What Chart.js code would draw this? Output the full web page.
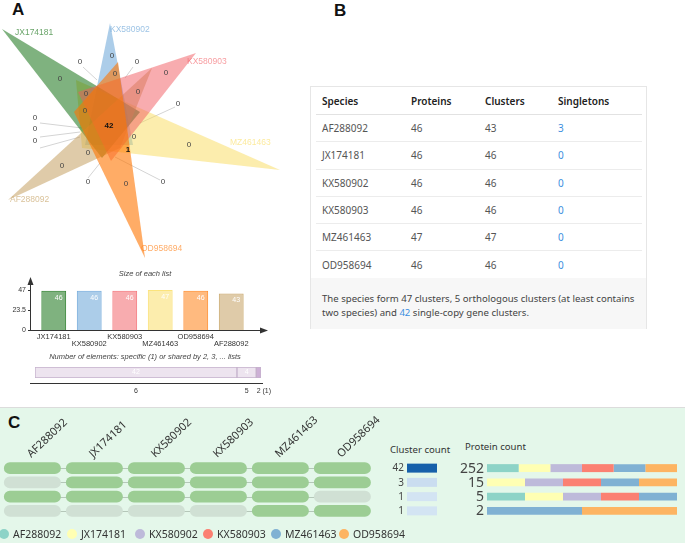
<!DOCTYPE html>
<html>
<head>
<meta charset="utf-8">
<script src="https://cdn.jsdelivr.net/npm/chart.js@4.4.0/dist/chart.umd.min.js"></script>
<style>
  body { margin: 0; width: 685px; height: 543px; overflow: hidden; background: #fff; position: relative; font-family: "Noto Sans", sans-serif; }
  canvas, .abs { position: absolute; }
  .panel-letter { position: absolute; font: bold 17px "Liberation Sans", Arial, sans-serif; color: #111; }
  #panelB { position: absolute; left: 310px; top: 86px; width: 337px; height: 243px; border: 1px solid #e6e6e6; box-sizing: border-box; }
  #tbl { position: absolute; left: 5px; top: 0; width: 326px; border-collapse: collapse; font-size: 10px; color: #555; }
  #tbl th { text-align: left; font-weight: 600; color: #222; height: 27px; padding: 0 0 0 6px; border-bottom: 1px solid #e2e2e2; }
  #tbl td { height: 26.3px; padding: 0 0 0 6px; border-bottom: 1px solid #ececec; }
  #tbl tr:last-child td { border-bottom: none; }
  .blue { color: #3d8fe0; }
  #foot { position: absolute; left: 0; top: 191px; width: 335px; height: 51px; background: #f7f7f7; box-sizing: border-box; padding: 14px 0 0 11px; font-size: 9.6px; line-height: 14px; color: #444; }
  #panelC { position: absolute; left: 0; top: 407px; width: 685px; height: 136px; background: #e4f7ea; border-top: 1px solid #dcdcdc; box-sizing: border-box; }
  .ctitle { position: absolute; font-size: 9.6px; color: #333; }
  .leg { position: absolute; top: 527px; font-size: 10.5px; color: #333; white-space: nowrap; }
  .leg i { display: inline-block; width: 10px; height: 10px; border-radius: 50%; vertical-align: -1px; margin-right: 4px; }
</style>
</head>
<body>
<div id="panelC"></div>
<div class="panel-letter" style="left:12px;top:0px;">A</div>
<div class="panel-letter" style="left:334px;top:1px;">B</div>
<div class="panel-letter" style="left:8px;top:413px;">C</div>

<canvas id="venn" width="290" height="265" style="left:0;top:0;width:290px;height:265px"></canvas>
<canvas id="sizes" width="290" height="90" style="left:0;top:265px;width:290px;height:90px"></canvas>
<canvas id="shared" width="290" height="50" style="left:0;top:350px;width:290px;height:50px"></canvas>

<div id="panelB"><table id="tbl"></table><div id="foot">The species form 47 clusters, 5 orthologous clusters (at least contains two species) and <span class="blue">42</span> single-copy gene clusters.</div></div>

<canvas id="grid" width="380" height="113" style="left:0;top:407px;width:380px;height:113px"></canvas>
<div class="ctitle" style="left:390px;top:443px;">Cluster count</div>
<div class="ctitle" style="left:465px;top:440px;">Protein count</div>
<canvas id="ccount" width="60" height="57" style="left:380px;top:461px;width:60px;height:57px"></canvas>
<canvas id="pcount" width="230" height="57" style="left:450px;top:461px;width:230px;height:57px"></canvas>
<div id="legend"></div>

<script>
// ---- table B / panel C species ----
const species = ['AF288092', 'JX174181', 'KX580902', 'KX580903', 'MZ461463', 'OD958694'];
const proteins = [46, 46, 46, 46, 47, 46];
const clusters = [43, 46, 46, 46, 47, 46];
const singletons = [3, 0, 0, 0, 0, 0];
const speciesColors = ['#8dd3c7', '#ffffb3', '#bebada', '#fb8072', '#80b1d3', '#fdb462'];

// ---- panel A: venn ----
const vennSets = ['JX174181', 'KX580902', 'KX580903', 'MZ461463', 'OD958694', 'AF288092'];
const vennColors = ['0,102,0', '90,155,212', '241,90,96', '250,220,91', '255,117,0', '192,152,83'];
const vennDrawOrder = [3, 5, 1, 4, 0, 2];  // lower = drawn on top
// triangle vertices of the 6-set venn shapes
const vennTriangles = [
    [[2, 29], [140, 112], [102, 158]],
    [[110, 23], [85, 145], [133, 145]],
    [[196, 53], [78, 92], [111, 161]],
    [[280, 170], [76, 80], [82, 148]],
    [[145, 258], [118, 62], [74, 112]],
    [[8, 200], [152, 68], [120, 148]]
];
const vennSetLabelPos = [[15, 33], [110, 30], [187, 62], [230, 143], [141, 249], [10, 200]];
// region counts: [text, x, y]
const vennRegions = [
    ['0', 60, 79], ['0', 112, 56], ['0', 80, 62], ['0', 137, 62], ['0', 115, 74], ['0', 166, 73],
    ['0', 86, 94], ['0', 138, 92], ['0', 85, 111], ['0', 178, 104], ['0', 35, 118], ['0', 35, 129],
    ['0', 35, 141], ['42', 109, 126], ['0', 134, 137], ['1', 128, 150], ['0', 189, 145], ['0', 88, 153],
    ['0', 62, 166], ['0', 88, 182], ['0', 163, 182], ['0', 126, 184]
];
const vennLeaders = [
    [83, 67, 97, 80], [133, 67, 125, 78], [175, 107, 140, 123], [40, 123, 82, 128],
    [40, 137, 80, 132], [40, 148, 80, 137], [88, 178, 100, 163], [160, 180, 115, 157]
];

// ---- size of each list ----
const listSizes = [46, 46, 46, 47, 46, 43];
const sizeTicks = [0, 23.5, 47];

// ---- shared elements ----
const sharedCounts = [42, 4, 1];
const sharedBy = ['6', '5', '2 (1)'];
const sharedFill = ['#ede4ef', '#ede4ef', '#cdb0d6'];

// ---- panel C ----
const clusterCounts = [42, 3, 1, 1];
const proteinTotals = [252, 15, 5, 2];
const presence = [
    [1, 1, 1, 1, 1, 1],
    [0, 1, 1, 1, 1, 1],
    [1, 1, 1, 1, 1, 0],
    [0, 0, 0, 0, 1, 1]
];
const proteinsPerRow = [
    [42, 42, 42, 42, 42, 42],
    [0, 3, 3, 3, 3, 3],
    [1, 1, 1, 1, 1, 0],
    [0, 0, 0, 0, 1, 1]
];

Chart.defaults.font.family = '"Liberation Sans", Arial, sans-serif';
const noLegend = { legend: { display: false }, tooltip: { enabled: false }, title: { display: false } };

// === table B ===
const tbl = document.getElementById('tbl');
let html = '<tr><th style="width:83px">Species</th><th style="width:68px">Proteins</th><th style="width:67px">Clusters</th><th>Singletons</th></tr>';
species.forEach((s, i) => {
    html += `<tr><td>${s}</td><td>${proteins[i]}</td><td>${clusters[i]}</td><td class="blue">${singletons[i]}</td></tr>`;
});
tbl.innerHTML = html;

// === 1. venn ===
const vennText = {
    id: 'vennText',
    beforeDraw(chart) {
        const { ctx, scales: { x, y } } = chart;
        ctx.save();
        ctx.strokeStyle = '#d4d4d4';
        ctx.lineWidth = 1;
        vennLeaders.forEach(l => {
            ctx.beginPath();
            ctx.moveTo(x.getPixelForValue(l[0]), y.getPixelForValue(l[1]));
            ctx.lineTo(x.getPixelForValue(l[2]), y.getPixelForValue(l[3]));
            ctx.stroke();
        });
        ctx.restore();
    },
    afterDatasetsDraw(chart) {
        const { ctx, scales: { x, y } } = chart;
        ctx.save();
        ctx.textBaseline = 'middle';
        ctx.textAlign = 'center';
        vennRegions.forEach(r => {
            ctx.font = (r[0] === '0' ? '' : 'bold ') + '8px "Liberation Sans", Arial';
            ctx.fillStyle = r[0] === '0' ? '#444' : '#111';
            ctx.fillText(r[0], x.getPixelForValue(r[1]), y.getPixelForValue(r[2]));
        });
        ctx.textAlign = 'left';
        ctx.font = '8.5px "Liberation Sans", Arial';
        vennSets.forEach((s, i) => {
            ctx.fillStyle = `rgba(${vennColors[i]},0.6)`;
            ctx.fillText(s, x.getPixelForValue(vennSetLabelPos[i][0]), y.getPixelForValue(vennSetLabelPos[i][1]));
        });
        ctx.restore();
    }
};
new Chart(document.getElementById('venn'), {
    type: 'scatter',
    data: {
        datasets: vennTriangles.map((tri, i) => ({
            label: vennSets[i],
            data: tri.concat([tri[0]]).map(p => ({ x: p[0], y: p[1] })),
            showLine: true,
            fill: 'shape',
            order: vennDrawOrder[i],
            backgroundColor: `rgba(${vennColors[i]},${i === 4 ? 0.6 : 0.5})`,
            borderWidth: 0,
            pointRadius: 0
        }))
    },
    options: {
        responsive: false,
        animation: false,
        layout: { padding: 0 },
        scales: {
            x: { type: 'linear', min: 0, max: 290, display: false },
            y: { type: 'linear', min: 0, max: 265, reverse: true, display: false }
        },
        plugins: noLegend
    },
    plugins: [vennText]
});

// === 2. size of each list ===
function arrowHead(ctx, x, y, dir) {
    ctx.beginPath();
    if (dir === 'up') { ctx.moveTo(x, y); ctx.lineTo(x - 3, y + 8); ctx.lineTo(x + 3, y + 8); }
    else { ctx.moveTo(x, y); ctx.lineTo(x - 8, y - 3); ctx.lineTo(x - 8, y + 3); }
    ctx.closePath();
    ctx.fill();
}
const sizeAxes = {
    id: 'sizeAxes',
    afterDraw(chart) {
        const { ctx, chartArea: a, scales: { x, y } } = chart;
        const ox = a.left - 6, oy = y.getPixelForValue(0);
        ctx.save();
        ctx.strokeStyle = '#333';
        ctx.fillStyle = '#333';
        ctx.lineWidth = 1;
        ctx.beginPath();
        ctx.moveTo(ox + 0.5, oy + 0.5); ctx.lineTo(ox + 0.5, a.top - 10);
        ctx.moveTo(ox, oy + 0.5); ctx.lineTo(a.right + 15, oy + 0.5);
        ctx.stroke();
        arrowHead(ctx, ox + 0.5, a.top - 13, 'up');
        arrowHead(ctx, a.right + 19, oy + 0.5, 'right');
        ctx.font = '7px "Liberation Sans", Arial';
        ctx.textAlign = 'right';
        ctx.textBaseline = 'middle';
        sizeTicks.forEach(t => {
            const py = y.getPixelForValue(t);
            ctx.fillText(String(t), ox - 4, py);
            ctx.beginPath(); ctx.moveTo(ox - 2, py + 0.5); ctx.lineTo(ox, py + 0.5); ctx.stroke();
        });
        ctx.textAlign = 'center';
        ctx.font = '7.5px "Liberation Sans", Arial';
        vennSets.forEach((s, i) => {
            const px = x.getPixelForValue(i);
            ctx.fillText(s, px, oy + (i % 2 ? 14 : 7));
        });
        // values
        ctx.fillStyle = '#fff';
        ctx.font = '7px "Liberation Sans", Arial';
        listSizes.forEach((v, i) => {
            ctx.fillText(String(v), x.getPixelForValue(i) + 5, y.getPixelForValue(v) + 7);
        });
        // title
        ctx.fillStyle = '#444';
        ctx.font = 'italic 7.5px "Liberation Sans", Arial';
        ctx.fillText('Size of each list', 145, 9);
        ctx.restore();
    }
};
new Chart(document.getElementById('sizes'), {
    type: 'bar',
    data: {
        labels: vennSets,
        datasets: [{
            data: listSizes,
            backgroundColor: vennColors.map(c => `rgba(${c},0.5)`),
            borderColor: vennColors.map(c => `rgba(${c},0.8)`),
            borderWidth: 1,
            borderSkipped: 'bottom',
            categoryPercentage: 1,
            barPercentage: 0.7
        }]
    },
    options: {
        responsive: false,
        animation: false,
        layout: { padding: { left: 36, right: 41, top: 25, bottom: 25 } },
        scales: {
            x: { display: false },
            y: { display: false, min: 0, max: 47 }
        },
        plugins: noLegend
    },
    plugins: [sizeAxes]
});

// === 3. shared by n lists ===
const sharedAxis = {
    id: 'sharedAxis',
    afterDraw(chart) {
        const { ctx, chartArea: a, scales: { x } } = chart;
        ctx.save();
        ctx.fillStyle = '#444';
        ctx.textAlign = 'center';
        ctx.textBaseline = 'middle';
        ctx.font = 'italic 7.5px "Liberation Sans", Arial';
        ctx.fillText('Number of elements: specific (1) or shared by 2, 3, ... lists', 145, 7);
        ctx.strokeStyle = '#333';
        ctx.beginPath();
        ctx.moveTo(30, a.bottom + 5.5); ctx.lineTo(263, a.bottom + 5.5);
        ctx.stroke();
        let cum = 0;
        sharedCounts.forEach((v, i) => {
            const cx = x.getPixelForValue(cum + v / 2);
            cum += v;
            ctx.font = '7px "Liberation Sans", Arial';
            ctx.fillStyle = '#333';
            ctx.textAlign = 'left';
            const lbl = sharedBy[i];
            ctx.fillText(lbl, cx - ctx.measureText(lbl[0]).width / 2, a.bottom + 13);
            if (v > 1) {
                ctx.fillStyle = '#fff';
                ctx.textAlign = 'center';
                ctx.fillText(String(v), cx, (a.top + a.bottom) / 2);
            }
        });
        ctx.restore();
    }
};
new Chart(document.getElementById('shared'), {
    type: 'bar',
    data: {
        labels: ['n'],
        datasets: sharedCounts.map((v, i) => ({
            data: [v],
            backgroundColor: sharedFill[i],
            borderColor: '#c5b2cc',
            borderWidth: 1,
            borderSkipped: false,
            categoryPercentage: 1,
            barPercentage: 1
        }))
    },
    options: {
        indexAxis: 'y',
        responsive: false,
        animation: false,
        layout: { padding: { left: 35, right: 29, top: 17, bottom: 22 } },
        scales: {
            x: { display: false, stacked: true, min: 0, max: 47 },
            y: { display: false, stacked: true }
        },
        plugins: noLegend
    },
    plugins: [sharedAxis]
});

// === 4. panel C presence grid ===
const gridDecor = {
    id: 'gridDecor',
    beforeDatasetsDraw(chart) {
        const { ctx, chartArea: a, scales: { x, y } } = chart;
        ctx.save();
        ctx.strokeStyle = '#b5c7b9';
        ctx.lineWidth = 1;
        presence.forEach((r, i) => {
            const py = Math.round(y.getPixelForValue(i)) + 0.5;
            ctx.beginPath(); ctx.moveTo(x.getPixelForValue(0.5), py); ctx.lineTo(x.getPixelForValue(5.5), py); ctx.stroke();
        });
        ctx.fillStyle = '#333';
        ctx.font = '11px "Noto Sans", sans-serif';
        ctx.textBaseline = 'alphabetic';
        species.forEach((s, j) => {
            ctx.save();
            ctx.translate(x.getPixelForValue(j + 0.47), a.top - 3);
            ctx.rotate(-0.76);
            ctx.fillText(s, 0, 0);
            ctx.restore();
        });
        ctx.restore();
    }
};
new Chart(document.getElementById('grid'), {
    type: 'bar',
    data: {
        labels: clusterCounts.map((c, i) => 'r' + i),
        datasets: species.map((s, j) => ({
            label: s,
            data: presence.map(() => [j + 0.03, j + 0.95]),
            backgroundColor: presence.map(r => r[j] ? '#9ccd94' : '#d0e0d4'),
            borderRadius: 6,
            borderSkipped: false,
            categoryPercentage: 1,
            barPercentage: 0.84,
            grouped: false
        }))
    },
    options: {
        indexAxis: 'y',
        responsive: false,
        animation: false,
        layout: { padding: { left: 2, right: 6, top: 54, bottom: 2 } },
        scales: {
            x: { type: 'linear', min: 0, max: 6, display: false },
            y: { display: false }
        },
        plugins: noLegend
    },
    plugins: [gridDecor]
});

// === 5. cluster count ===
function rowNumbers(values, size) {
    return {
        id: 'rowNumbers',
        afterDraw(chart) {
            const { ctx, chartArea: a, scales: { y } } = chart;
            ctx.save();
            ctx.fillStyle = '#444';
            ctx.font = size + 'px "Noto Sans", sans-serif';
            ctx.textAlign = 'right';
            ctx.textBaseline = 'middle';
            values.forEach((v, i) => ctx.fillText(String(v), a.left - 3, y.getPixelForValue(i) + 0.5));
            ctx.restore();
        }
    };
}
const maxCluster = Math.max(...clusterCounts);
function blueShade(v) {
    const t = v / maxCluster;
    const lo = [216, 231, 245], hi = [22, 96, 170];
    const c = lo.map((l, k) => Math.round(l + (hi[k] - l) * t));
    return `rgb(${c.join(',')})`;
}
new Chart(document.getElementById('ccount'), {
    type: 'bar',
    data: {
        labels: clusterCounts.map((c, i) => 'r' + i),
        datasets: [{
            data: clusterCounts.map(() => [0, 1]),
            backgroundColor: clusterCounts.map(blueShade),
            categoryPercentage: 1,
            barPercentage: 0.63
        }]
    },
    options: {
        indexAxis: 'y',
        responsive: false,
        animation: false,
        layout: { padding: { left: 27, right: 3, top: 0, bottom: 0 } },
        scales: {
            x: { type: 'linear', min: 0, max: 1, display: false },
            y: { display: false }
        },
        plugins: noLegend
    },
    plugins: [rowNumbers(clusterCounts, 10)]
});

// === 6. protein count ===
new Chart(document.getElementById('pcount'), {
    type: 'bar',
    data: {
        labels: proteinTotals.map((c, i) => 'r' + i),
        datasets: species.map((s, j) => ({
            label: s,
            data: proteinsPerRow.map(r => r[j] / r.reduce((p, q) => p + q, 0) * 100),
            backgroundColor: speciesColors[j],
            categoryPercentage: 1,
            barPercentage: 0.56
        }))
    },
    options: {
        indexAxis: 'y',
        responsive: false,
        animation: false,
        layout: { padding: { left: 37, right: 3, top: 0, bottom: 0 } },
        scales: {
            x: { stacked: true, min: 0, max: 100, display: false },
            y: { stacked: true, display: false }
        },
        plugins: noLegend
    },
    plugins: [rowNumbers(proteinTotals, 14)]
});

// legend for panel C
const legend = document.getElementById('legend');
species.forEach((s, i) => {
    const d = document.createElement('div');
    d.className = 'leg';
    d.style.left = (-1 + i * 68) + 'px';
    d.innerHTML = `<i style="background:${speciesColors[i]}"></i>${s}`;
    legend.appendChild(d);
});
</script>
</body>
</html>
